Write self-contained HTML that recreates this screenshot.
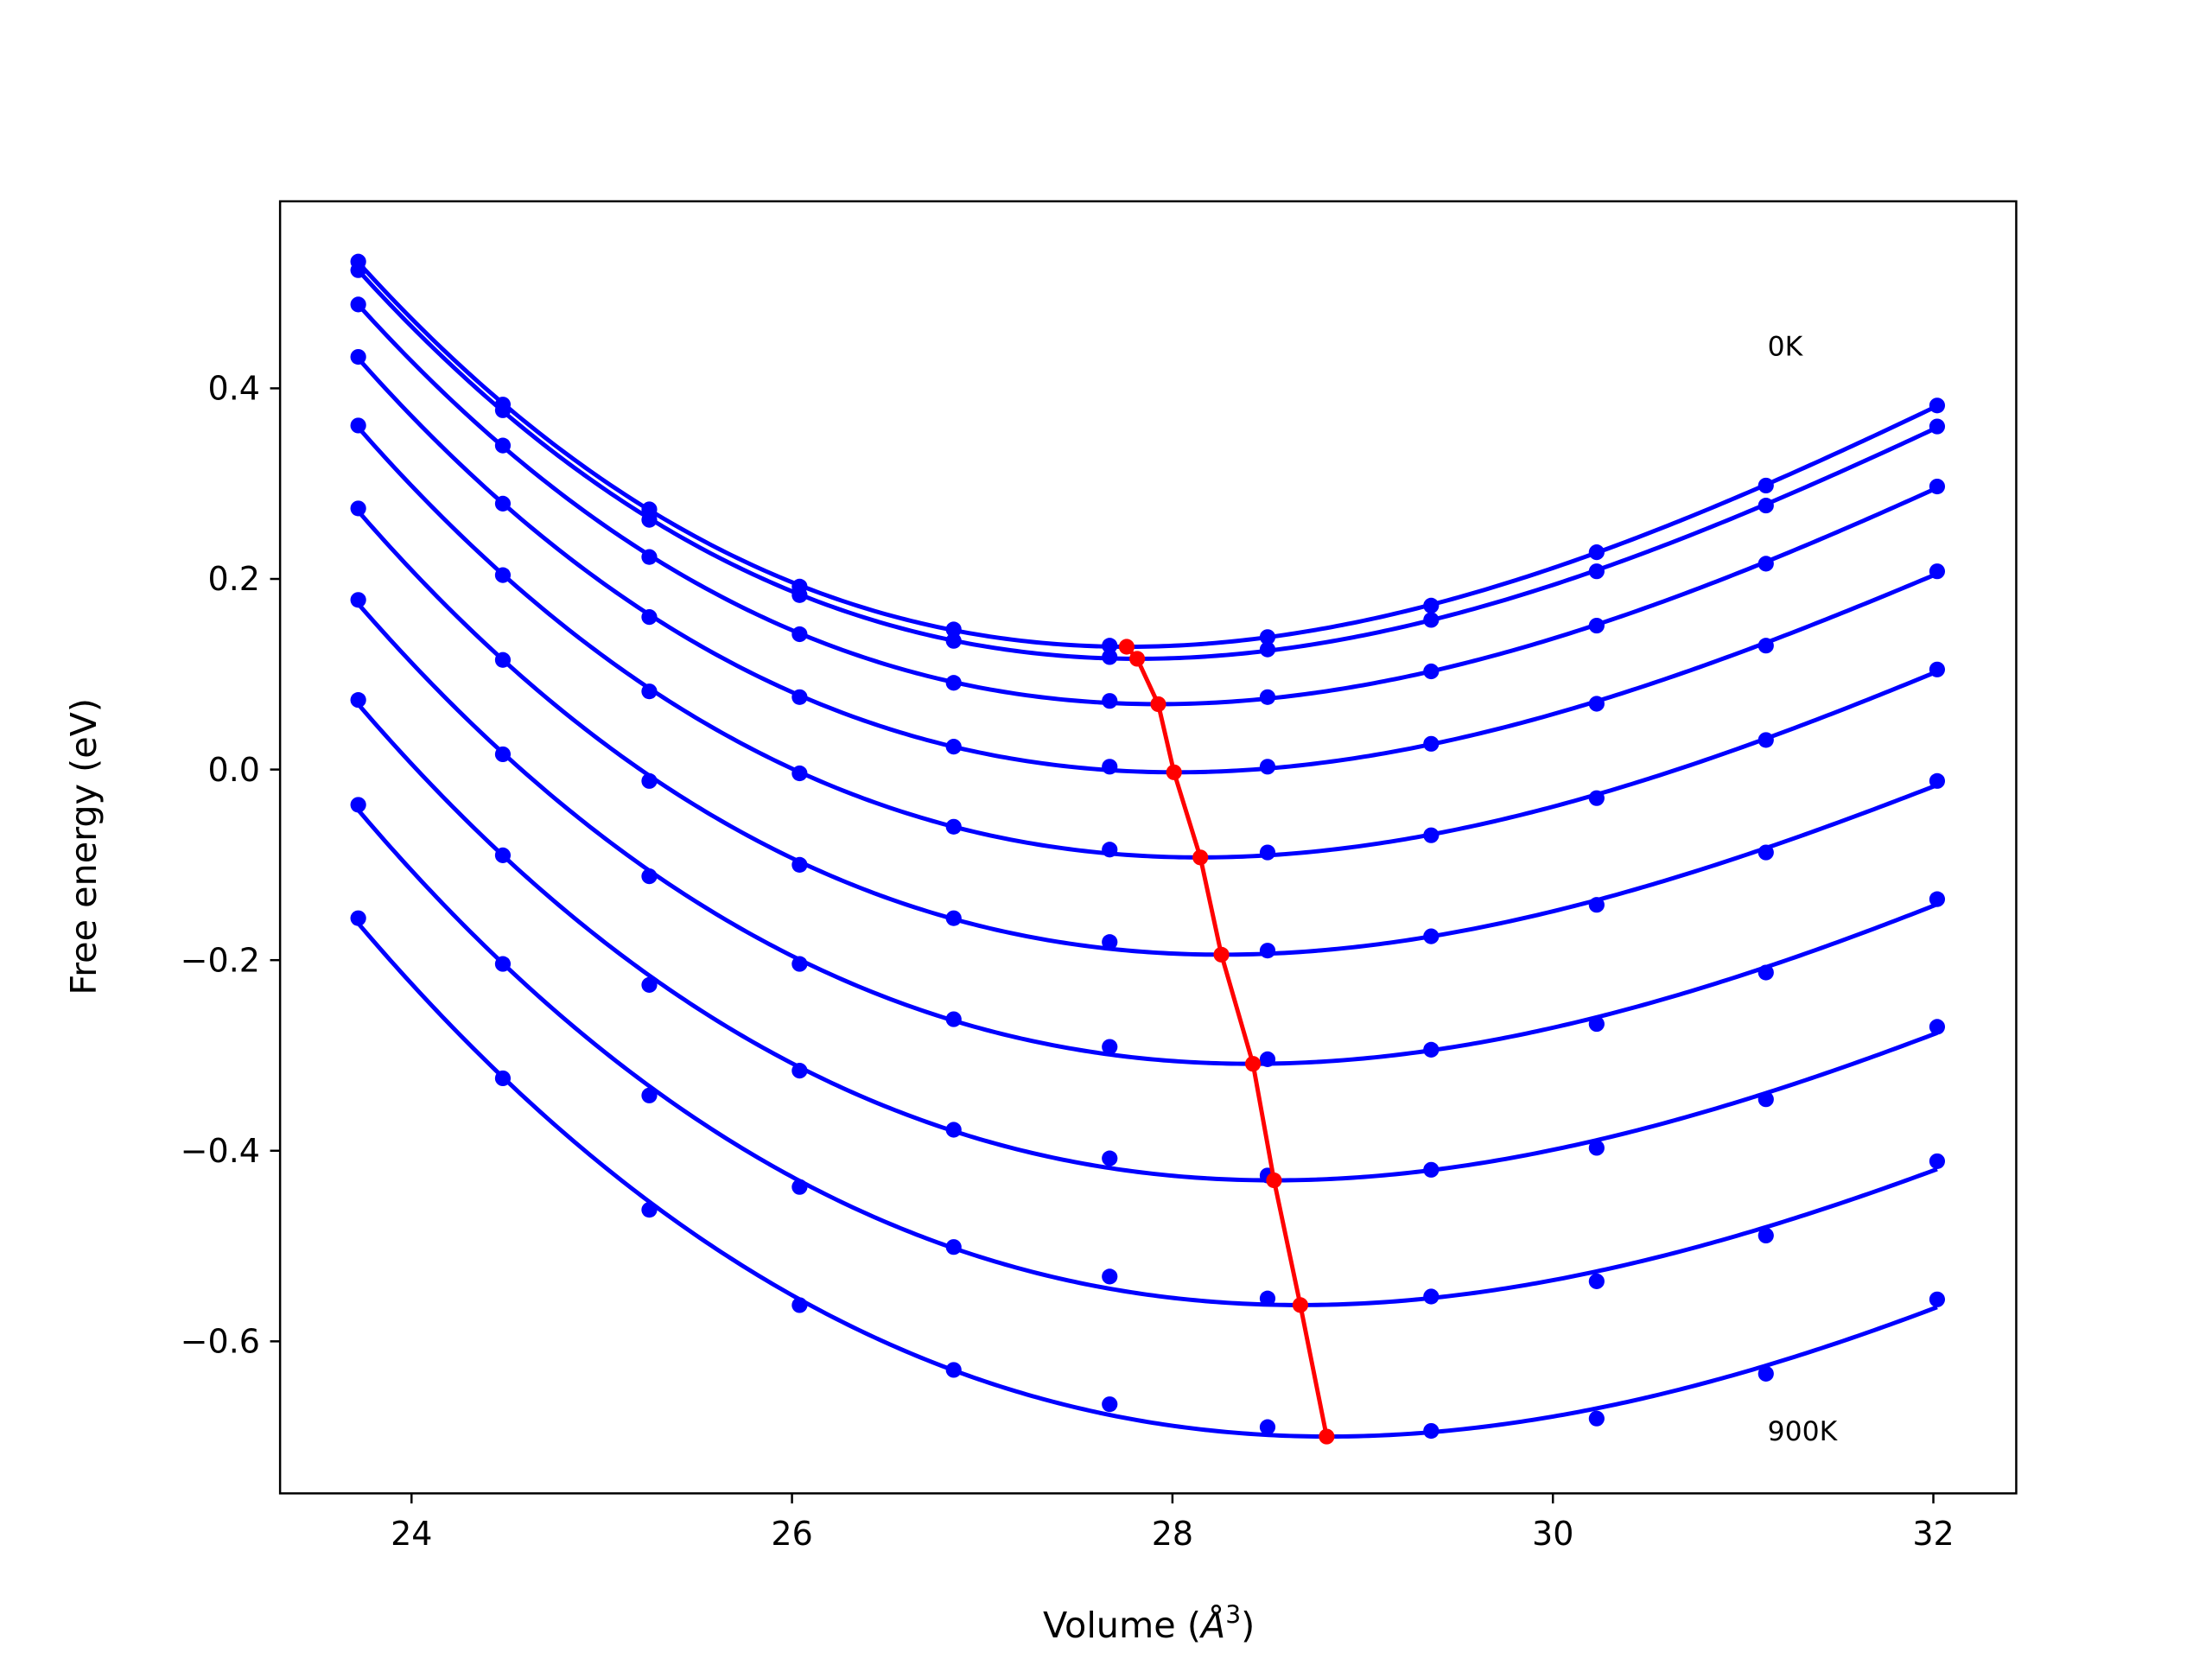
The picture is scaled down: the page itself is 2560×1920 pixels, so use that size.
<!DOCTYPE html>
<html><head><meta charset="utf-8"><style>
html,body{margin:0;padding:0;background:#fff;}
svg{display:block;}
text{font-family:"DejaVu Sans","Liberation Sans",sans-serif;fill:#000;}
</style></head><body>
<svg id="chart" width="2560" height="1920" viewBox="0 0 1548 1162" preserveAspectRatio="none" xmlns="http://www.w3.org/2000/svg">
<rect x="0" y="0" width="1548" height="1162" fill="#fff"/>
<g id="plot"></g>
<rect x="196" y="141" width="1215" height="905" fill="none" stroke="#000" stroke-width="1.5"/>
<g id="ticks"></g>
<text x="804" y="1147" font-size="25" text-anchor="middle">Volume (<tspan font-style="italic">Å</tspan><tspan font-size="17" dy="-10">3</tspan><tspan dy="10">)</tspan></text>
<text transform="translate(67,593) rotate(-90)" font-size="25" text-anchor="middle">Free energy (eV)</text>
<text x="1237" y="249" font-size="19">0K</text>
<text x="1237" y="1009" font-size="19">900K</text>
</svg>
<script>
const volumes = [23.72, 24.48, 25.25, 26.04, 26.85, 27.67, 28.50, 29.36, 30.23, 31.12, 32.02];
const temperatures = [0,100,200,300,400,500,600,700,800,900];
const energies = [
 [0.533,0.383,0.273,0.192,0.147,0.130,0.139,0.172,0.228,0.298,0.382],
 [0.524,0.377,0.262,0.183,0.135,0.118,0.126,0.157,0.208,0.277,0.360],
 [0.488,0.340,0.223,0.142,0.091,0.072,0.076,0.103,0.151,0.216,0.297],
 [0.433,0.279,0.160,0.076,0.024,0.003,0.003,0.027,0.069,0.130,0.208],
 [0.361,0.204,0.082,-0.004,-0.060,-0.084,-0.087,-0.069,-0.030,0.031,0.105],
 [0.274,0.115,-0.012,-0.100,-0.156,-0.181,-0.190,-0.175,-0.142,-0.087,-0.012],
 [0.178,0.016,-0.112,-0.204,-0.262,-0.291,-0.304,-0.294,-0.267,-0.213,-0.136],
 [0.073,-0.090,-0.226,-0.316,-0.378,-0.408,-0.426,-0.420,-0.397,-0.346,-0.270],
 [-0.037,-0.204,-0.342,-0.438,-0.501,-0.532,-0.555,-0.553,-0.537,-0.489,-0.411],
 [-0.156,-0.324,-0.462,-0.562,-0.630,-0.666,-0.690,-0.694,-0.681,-0.634,-0.556]
];
const xTicks = [24,26,28,30,32];
const yTicks = [-0.6,-0.4,-0.2,0.0,0.2,0.4];
const yTickLabels = ["\u22120.6","\u22120.4","\u22120.2","0.0","0.2","0.4"];

const NS="http://www.w3.org/2000/svg";
function sx(v){return 288+(v-24)*133.125;}
function sy(e){return 539-e*667.5;}
const plot=document.getElementById('plot');
const ticks=document.getElementById('ticks');
function mk(tag,attrs,parent){const el=document.createElementNS(NS,tag);for(const k in attrs)el.setAttribute(k,attrs[k]);parent.appendChild(el);return el;}

xTicks.forEach((t)=>{
 const l=mk('line',{x1:sx(t),x2:sx(t),y1:1046,y2:1053,stroke:'#000','stroke-width':1.5},ticks);
 
 
 const tx=mk('text',{x:sx(t),y:1082,'font-size':23,'text-anchor':'middle'},ticks);
 tx.textContent=String(t);
 
 
});
yTicks.forEach((t,i)=>{
 const l=mk('line',{x1:189,x2:196,y1:sy(t),y2:sy(t),stroke:'#000','stroke-width':1.5},ticks);
 
 
 const tx=mk('text',{x:182,y:sy(t)+8,'font-size':23,'text-anchor':'end'},ticks);
 tx.textContent=yTickLabels[i];
 
 
});

function fit(xs,ys,deg){
 const n=deg+1,A=[],b=[];
 for(let i=0;i<n;i++){A.push(new Array(n).fill(0));b.push(0);}
 xs.forEach((x0,k)=>{const x=x0-28;for(let i=0;i<n;i++){b[i]+=ys[k]*Math.pow(x,i);for(let j=0;j<n;j++)A[i][j]+=Math.pow(x,i+j);}});
 for(let i=0;i<n;i++){let p=i;for(let r=i+1;r<n;r++)if(Math.abs(A[r][i])>Math.abs(A[p][i]))p=r;[A[i],A[p]]=[A[p],A[i]];[b[i],b[p]]=[b[p],b[i]];
  for(let r=i+1;r<n;r++){const f=A[r][i]/A[i][i];for(let j=i;j<n;j++)A[r][j]-=f*A[i][j];b[r]-=f*b[i];}}
 const c=new Array(n).fill(0);
 for(let i=n-1;i>=0;i--){let s=b[i];for(let j=i+1;j<n;j++)s-=A[i][j]*c[j];c[i]=s/A[i][i];}
 return v=>{const x=v-28;let s=0;for(let i=0;i<n;i++)s+=c[i]*Math.pow(x,i);return s;};
}
const mins=[];
energies.forEach((es,ci)=>{
 const f=fit(volumes,es,3);
 const v0=volumes[0],v1=volumes[volumes.length-1];
 let d='',best=null;
 for(let k=0;k<=300;k++){const v=v0+(v1-v0)*k/300;const e=f(v);d+=(k?'L':'M')+sx(v).toFixed(2)+' '+sy(e).toFixed(2);if(!best||e<best[1])best=[v,e];}
 mins.push(best);
 const p=mk('path',{d:d,fill:'none',stroke:'#0000ff','stroke-width':3},plot);
 
 
 es.forEach((e,k)=>{
  const c=mk('circle',{cx:sx(volumes[k]),cy:sy(e),r:5.5,fill:'#0000ff'},plot);
  
  
 });
});
let md='';
mins.forEach((m,i)=>{md+=(i?'L':'M')+sx(m[0]).toFixed(2)+' '+sy(m[1]).toFixed(2);});
const ml=mk('path',{d:md,fill:'none',stroke:'#ff0000','stroke-width':3},plot);


mins.forEach(m=>{
 const c=mk('circle',{cx:sx(m[0]),cy:sy(m[1]),r:5.5,fill:'#ff0000'},plot);
 
 
});
</script>
</body></html>
